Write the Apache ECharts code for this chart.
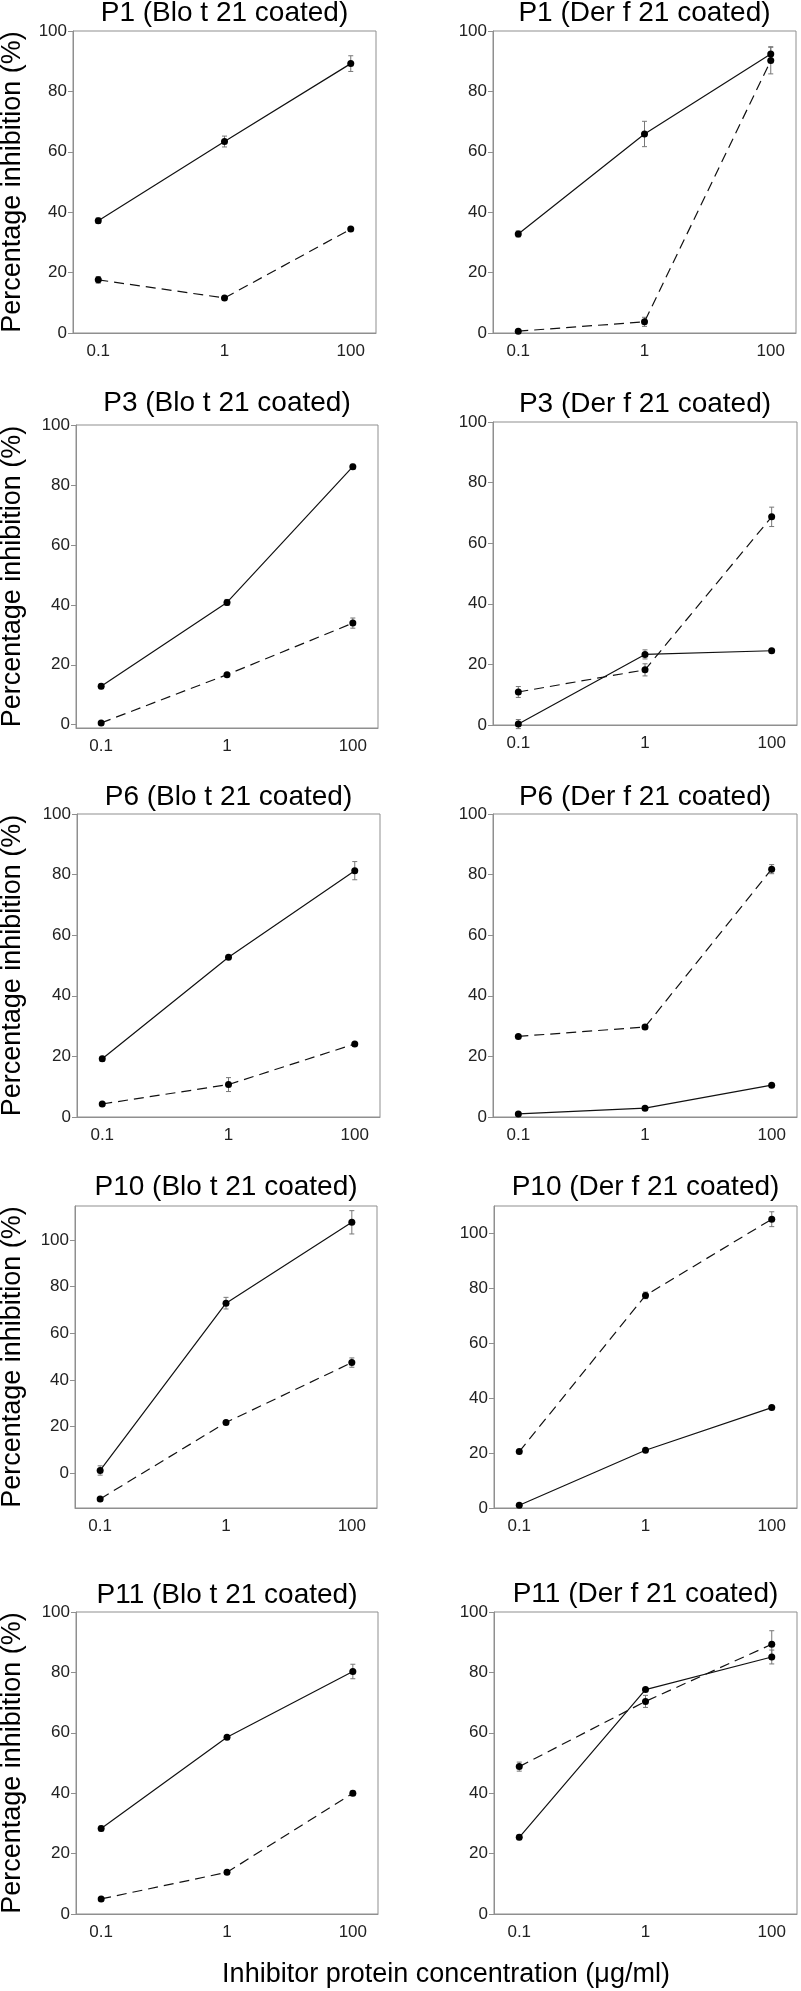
<!DOCTYPE html>
<html>
<head>
<meta charset="utf-8">
<script src="https://cdn.jsdelivr.net/npm/echarts@6/dist/echarts.min.js"></script>
<style>
html,body{margin:0;padding:0;background:#fff;}
#chart{width:801px;height:1991px;}
</style>
</head>
<body>
<div id="chart"></div>
<script>
// ---- Data ----
const xLabels = ['0.1', '1', '100'];
const panelTitles = [
  'P1 (Blo t 21 coated)', 'P1 (Der f 21 coated)',
  'P3 (Blo t 21 coated)', 'P3 (Der f 21 coated)',
  'P6 (Blo t 21 coated)', 'P6 (Der f 21 coated)',
  'P10 (Blo t 21 coated)', 'P10 (Der f 21 coated)',
  'P11 (Blo t 21 coated)', 'P11 (Der f 21 coated)'
];
const yTicks = [0, 20, 40, 60, 80, 100];
const yMins = [0, 0, -1.1, 0, 0, 0, -15, 0, 0, 0];
const yMaxs = [100, 100, 100, 100, 100, 100, 114.6, 109.8, 100, 100];

const solidValues = [
  [37.2, 63.4, 89.2], [32.8, 65.9, 92.4],
  [12.8, 40.8, 86.1], [0.3, 23.3, 24.5],
  [19.2, 52.7, 81.3], [1.0, 2.9, 10.5],
  [1.1, 72.9, 107.6], [1.0, 21.0, 36.5],
  [28.3, 58.5, 80.3], [25.4, 74.3, 85.1]
];
const solidErrors = [
  [0.9, 1.8, 2.6], [1.0, 4.2, 2.4],
  [0.8, 1.0, 0.8], [1.5, 1.5, 0.5],
  [0.8, 0.6, 3.0], [0.3, 0.3, 0.3],
  [2.0, 2.5, 5.0], [0.3, 0.3, 0.5],
  [0.8, 0.6, 2.4], [0.8, 0.6, 2.3]
];
const dashedValues = [
  [17.6, 11.6, 34.4], [0.6, 3.7, 90.2],
  [0.6, 16.7, 33.9], [10.9, 18.2, 68.7],
  [4.3, 10.7, 24.1], [26.6, 29.7, 81.8],
  [-11.1, 21.7, 47.4], [20.5, 77.3, 105.0],
  [5.0, 13.8, 40.0], [48.8, 70.4, 89.3]
];
const dashedErrors = [
  [1.1, 0.6, 0.6], [0.4, 1.5, 4.4],
  [0.3, 0.5, 1.7], [1.8, 2.0, 3.2],
  [0.5, 2.3, 0.5], [0.5, 0.7, 1.5],
  [0.5, 0.8, 2.0], [0.5, 1.2, 2.7],
  [0.4, 0.5, 0.8], [1.5, 2.0, 4.5]
];
const yAxisTitle = 'Percentage inhibition (%)';
const xAxisTitle = 'Inhibitor protein concentration (\u03bcg/ml)';

// ---- Layout ----
const grids = [
  {left: 73, top: 31, width: 303, height: 302},
  {left: 493, top: 31, width: 303, height: 302},
  {left: 76, top: 425, width: 302, height: 303},
  {left: 493, top: 422, width: 304, height: 303},
  {left: 77, top: 814, width: 303, height: 303},
  {left: 493, top: 814, width: 304, height: 303},
  {left: 75, top: 1206, width: 302, height: 302},
  {left: 494, top: 1206, width: 303, height: 302},
  {left: 76, top: 1612, width: 302, height: 302},
  {left: 494, top: 1612, width: 303, height: 302}
];
const titleY = [13, 13, 403, 404, 797, 797, 1187, 1187, 1595, 1594];

const FONT = "'Liberation Sans', Arial, Helvetica, sans-serif";
const boxColor = '#8f8f8f';
const textColor = '#222';
const lineColor = '#111';
const errColor = '#777';

const option = {
  backgroundColor: '#fff',
  animation: false,
  grid: grids.map(g => Object.assign({show: true, borderColor: boxColor, borderWidth: 1, backgroundColor: 'transparent'}, g)),
  xAxis: grids.map((g, i) => ({
    type: 'value', gridIndex: i, min: -0.2, max: 2.2,
    axisLine: {show: true, onZero: false, lineStyle: {color: boxColor, width: 1}},
    axisTick: {show: false},
    splitLine: {show: false},
    axisLabel: {
      customValues: [0, 1, 2],
      formatter: v => xLabels[Math.round(v)],
      color: textColor, fontFamily: FONT, fontSize: 17, margin: 10
    }
  })),
  yAxis: grids.map((g, i) => ({
    type: 'value', gridIndex: i, min: yMins[i], max: yMaxs[i],
    axisLine: {show: true, onZero: false, lineStyle: {color: boxColor, width: 1}},
    axisTick: {show: true, customValues: yTicks, length: 5, inside: false, lineStyle: {color: boxColor}},
    splitLine: {show: false},
    axisLabel: {customValues: yTicks, color: textColor, fontFamily: FONT, fontSize: 17, margin: 6}
  })),
  graphic: [],
  series: []
};

for (let i = 0; i < 10; i++) {
  const g = grids[i];
  option.graphic.push({
    type: 'text', x: g.left + g.width / 2, y: titleY[i],
    style: {text: panelTitles[i], font: '28px ' + FONT, fill: '#000', textAlign: 'center', textVerticalAlign: 'middle'}
  });
  if (i % 2 === 0) {
    option.graphic.push({
      type: 'text', x: 13, y: g.top + g.height / 2, rotation: Math.PI / 2,
      style: {text: yAxisTitle, font: '27px ' + FONT, fill: '#000', textAlign: 'center', textVerticalAlign: 'middle'}
    });
  }
  const errData = [];
  [[solidValues, solidErrors], [dashedValues, dashedErrors]].forEach(([vals, errs]) => {
    for (let k = 0; k < 3; k++) {
      errData.push([k, vals[i][k] - errs[i][k], vals[i][k] + errs[i][k]]);
    }
  });
  option.series.push({
    type: 'custom', xAxisIndex: i, yAxisIndex: i, z: 1,
    encode: {x: 0, y: [1, 2]},
    data: errData,
    renderItem: function (params, api) {
      const x = api.value(0), lo = api.value(1), hi = api.value(2);
      const a = api.coord([x, lo]);
      const b = api.coord([x, hi]);
      const hw = 2.5;
      const st = {stroke: errColor, lineWidth: 1};
      return {type: 'group', children: [
        {type: 'line', shape: {x1: a[0], y1: a[1], x2: b[0], y2: b[1]}, style: st},
        {type: 'line', shape: {x1: a[0] - hw, y1: a[1], x2: a[0] + hw, y2: a[1]}, style: st},
        {type: 'line', shape: {x1: b[0] - hw, y1: b[1], x2: b[0] + hw, y2: b[1]}, style: st}
      ]};
    }
  });
  option.series.push({
    type: 'line', xAxisIndex: i, yAxisIndex: i, z: 3,
    data: solidValues[i].map((v, k) => [k, v]),
    symbol: 'circle', symbolSize: 7,
    itemStyle: {color: '#000'},
    lineStyle: {color: lineColor, width: 1.2, type: 'solid'}
  });
  option.series.push({
    type: 'line', xAxisIndex: i, yAxisIndex: i, z: 3,
    data: dashedValues[i].map((v, k) => [k, v]),
    symbol: 'circle', symbolSize: 7,
    itemStyle: {color: '#000'},
    lineStyle: {color: lineColor, width: 1.2, type: [10, 6]}
  });
}

option.graphic.push({
  type: 'text', x: 446, y: 1975,
  style: {text: xAxisTitle, font: '27px ' + FONT, fill: '#000', textAlign: 'center', textVerticalAlign: 'middle'}
});

const chart = echarts.init(document.getElementById('chart'), null, {renderer: 'canvas'});
chart.setOption(option);
</script>
</body>
</html>
